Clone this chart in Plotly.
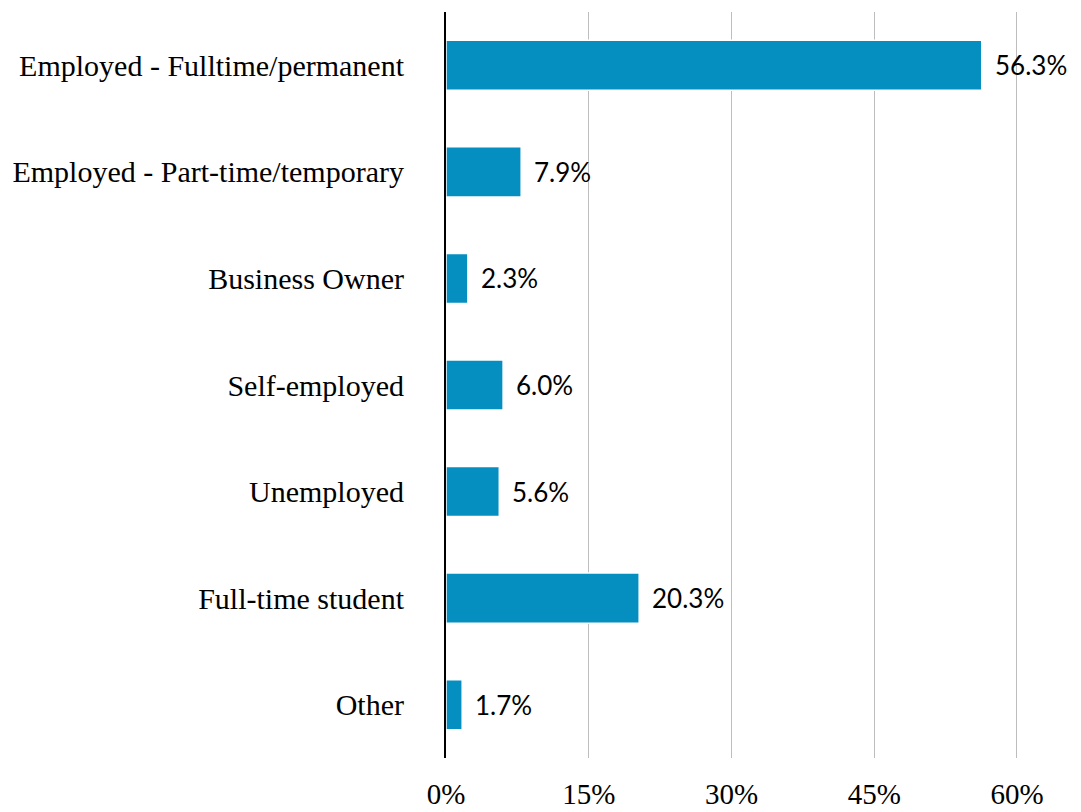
import plotly.graph_objects as go

# Employment status shares (%)
categories = [
    "Employed - Fulltime/permanent",
    "Employed - Part-time/temporary",
    "Business Owner",
    "Self-employed",
    "Unemployed",
    "Full-time student",
    "Other",
]
shares = [56.3, 7.9, 2.3, 6.0, 5.6, 20.3, 1.7]
tick_vals = [0, 15, 30, 45, 60]
tick_text = ["0%", "15%", "30%", "45%", "60%"]

bar_color = "#058FC0"

fig = go.Figure()

fig.add_trace(go.Bar(
    x=shares,
    y=categories,
    orientation="h",
    marker=dict(color=bar_color, line=dict(color="white", width=1.5)),
    hoverinfo="skip",
    showlegend=False,
))

# value labels to the right of each bar
for cat, val in zip(categories, shares):
    fig.add_annotation(
        x=val, y=cat,
        text=f"{val:.1f}%",
        showarrow=False,
        xanchor="left",
        xshift=11,
        font=dict(family="Lato, Noto Sans, sans-serif", size=26, color="black"),
    )

# page body has an 8px margin, so the figure is a bit smaller than the window
fig.update_layout(
    width=1065,
    height=804,
    margin=dict(l=438, r=37, t=4, b=54),
    plot_bgcolor="white",
    paper_bgcolor="white",
    bargap=0.53,
    xaxis=dict(
        range=[0, 62],
        tickvals=tick_vals,
        ticktext=tick_text,
        showgrid=True,
        gridcolor="#BDBDBD",
        gridwidth=1,
        zeroline=False,
        ticks="outside",
        ticklen=10,
        tickcolor="rgba(0,0,0,0)",
        automargin=False,
        tickfont=dict(family="Liberation Serif, serif", size=29, color="black"),
    ),
    yaxis=dict(
        categoryorder="array",
        categoryarray=categories,
        autorange="reversed",
        showline=True,
        linecolor="black",
        linewidth=2,
        showgrid=False,
        ticks="outside",
        ticklen=34,
        tickcolor="rgba(0,0,0,0)",
        automargin=False,
        tickfont=dict(family="Liberation Serif, serif", size=30, color="black"),
    ),
)

fig.write_html("out.html")
